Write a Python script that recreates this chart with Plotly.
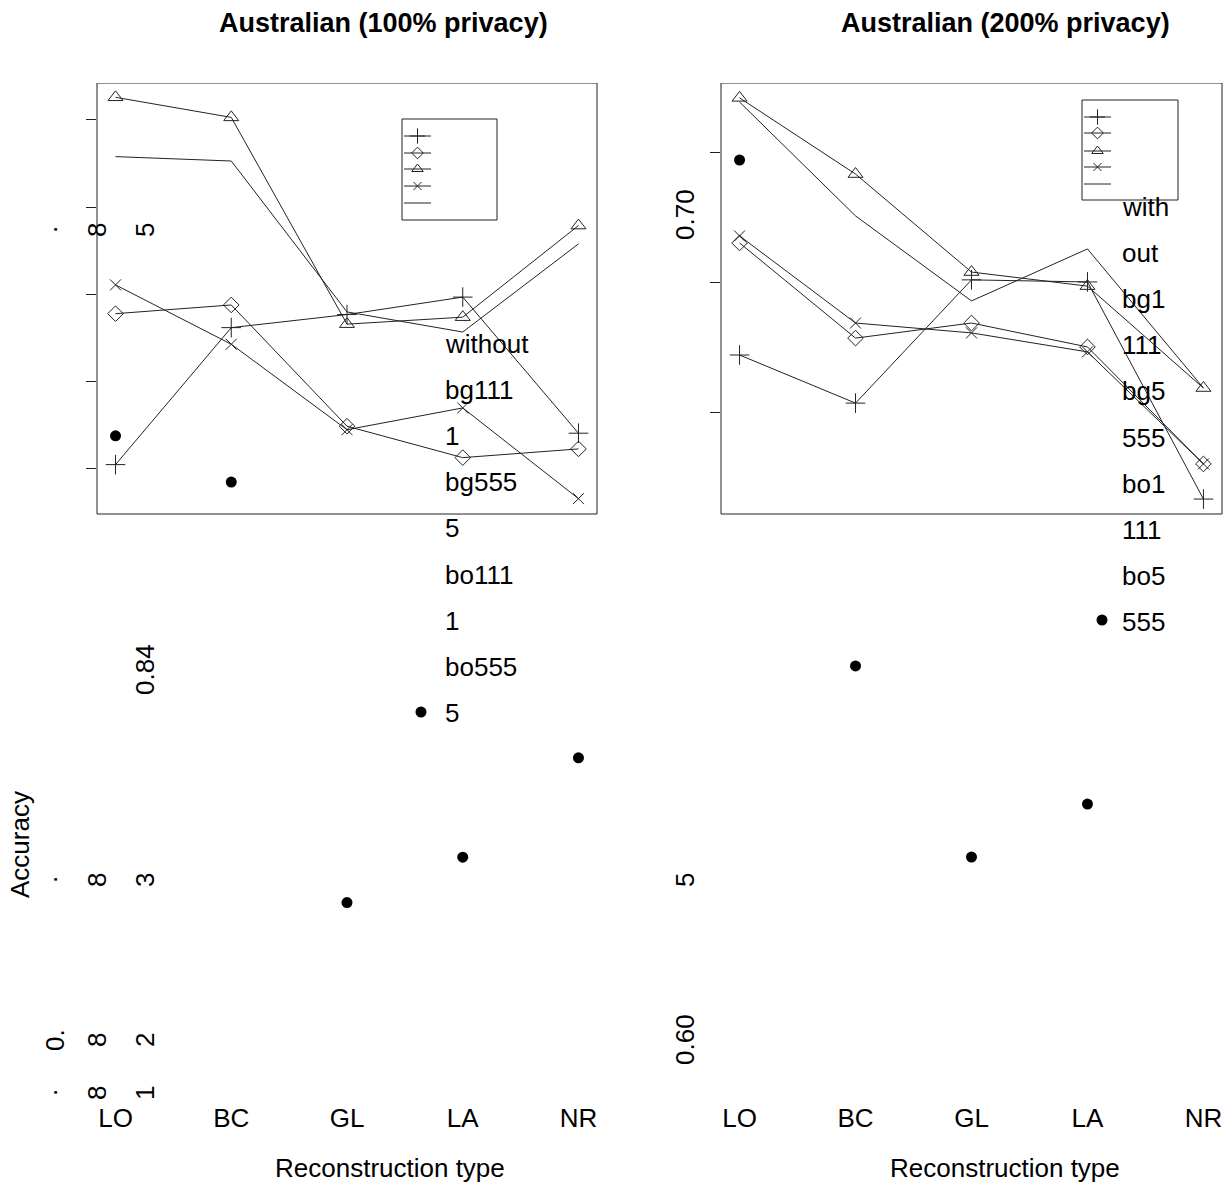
import plotly.graph_objects as go

# ---------------- data ----------------
categories = ["LO", "BC", "GL", "LA", "NR"]
series_names = ["without", "bg1111", "bg5555", "bo1111", "bo5555"]

# Australian (100% privacy)
p100_without = [0.8105, 0.8262, 0.8277, 0.8297, 0.8141]
p100_bg1111 = [0.8278, 0.8288, 0.8149, 0.8113, 0.8123]
p100_bg5555 = [0.8526, 0.8503, 0.8266, 0.8274, 0.8379]
p100_bo1111 = [0.8311, 0.8243, 0.8145, 0.8170, 0.8066]
p100_bo5555 = [0.8458, 0.8453, 0.8280, 0.8257, 0.8358]
p100_dots = [0.8138, 0.8085, 0.7603, 0.7655, 0.7769]

# Australian (200% privacy)
p200_without = [0.6223, 0.6038, 0.6512, 0.6504, 0.5669]
p200_bg1111 = [0.6654, 0.6288, 0.6346, 0.6254, 0.5804]
p200_bg5555 = [0.7212, 0.6919, 0.6542, 0.6488, 0.6096]
p200_bo1111 = [0.6681, 0.6346, 0.6308, 0.6235, 0.5804]
p200_bo5555 = [0.7196, 0.6758, 0.6431, 0.6631, 0.6096]
p200_dots = [0.6973, 0.5027, 0.4292, 0.4496, None]

p100_ticks = [0.81, 0.82, 0.83, 0.84, 0.85]
p200_ticks = [0.60, 0.65, 0.70]

titles = ["Australian (100% privacy)", "Australian (200% privacy)"]
x_title = "Reconstruction type"
y_title = "Accuracy"

# broken legend texts as rendered
legend_text_left = ["without", "bg111", "1", "bg555", "5", "bo111", "1", "bo555", "5"]
legend_text_right = ["with", "out", "bg1", "111", "bg5", "555", "bo1", "111", "bo5", "555"]

# broken y tick label fragments as rendered
left_frag_text = [".", "8", "5", "0.84", ".", "8", "3", "0.", "8", "2", ".", "8", "1"]
right_frag_text = ["0.70", "5", "0.60"]

# ---------------- layout geometry (pixels) ----------------
W, H = 1232, 1184
FONT = "Liberation Sans, Arial, Helvetica, sans-serif"
INK = "#222222"
BOX_TOP, BOX_BOT, PLOT_BOT = 83, 514, 1100
panel_px = [(97, 597), (721, 1222)]
box_vals = [(0.80484, 0.85424), (0.56115, 0.72692)]

left_frag_pos = [(48, 230), (97, 230), (145, 230), (145, 670), (48, 880), (97, 880), (145, 880),
                 (55, 1040), (97, 1040), (145, 1040), (48, 1093), (97, 1093), (145, 1093)]
right_frag_pos = [(685, 215), (685, 880), (685, 1040)]

fig = go.Figure()

panels = [
    ([p100_without, p100_bg1111, p100_bg5555, p100_bo1111, p100_bo5555], p100_dots, p100_ticks),
    ([p200_without, p200_bg1111, p200_bg5555, p200_bo1111, p200_bo5555], p200_dots, p200_ticks),
]
symbols = ["cross-thin-open", "diamond-open", "triangle-up-open", "x-thin-open", None]
sizes = [14, 12, 13, 11, 0]

for i, (series, dots, ticks) in enumerate(panels):
    xa = "x" if i == 0 else "x2"
    ya = "y" if i == 0 else "y2"
    for name, vals, sym, sz in zip(series_names, series, symbols, sizes):
        if sym is None:
            fig.add_trace(go.Scatter(x=categories, y=vals, mode="lines", name=name,
                                     line=dict(color=INK, width=1), xaxis=xa, yaxis=ya,
                                     showlegend=False))
        else:
            fig.add_trace(go.Scatter(x=categories, y=vals, mode="lines+markers", name=name,
                                     line=dict(color=INK, width=1),
                                     marker=dict(symbol=sym, size=sz, color=INK,
                                                 line=dict(color=INK, width=1)),
                                     xaxis=xa, yaxis=ya, showlegend=False))
    fig.add_trace(go.Scatter(x=categories, y=dots, mode="markers", name="points",
                             marker=dict(symbol="circle", size=11, color="black"),
                             xaxis=xa, yaxis=ya, showlegend=False, cliponaxis=False))

layout_axes = {}
for i, ((x0, x1), (vb, vt), ticks) in enumerate(zip(panel_px, box_vals, [p100_ticks, p200_ticks])):
    scale = (BOX_BOT - BOX_TOP) / (vt - vb)
    rng_bot = vb - (PLOT_BOT - BOX_BOT) / scale
    sx = "" if i == 0 else "2"
    layout_axes["xaxis" + sx] = dict(
        domain=[x0 / W, x1 / W], range=[-0.16, 4.16], type="category",
        categoryorder="array", categoryarray=categories,
        showgrid=False, zeroline=False, showline=False, ticks="",
        tickfont=dict(size=26, color="black", family=FONT), anchor="y" + sx)
    layout_axes["yaxis" + sx] = dict(
        domain=[(H - PLOT_BOT) / H, (H - BOX_TOP) / H], range=[rng_bot, vt],
        showgrid=False, zeroline=False, showline=False, tickvals=ticks,
        ticks="outside", ticklen=10, tickcolor=INK, tickwidth=1,
        showticklabels=False, anchor="x" + sx)
    # plot frame box
    fig.add_shape(type="rect", xref="x" + sx + " domain", yref="y" + sx,
                  x0=0, x1=1, y0=vb, y1=vt, line=dict(color=INK, width=1))

# pixel overlay axes for legend decorations and text
layout_axes["xaxis3"] = dict(domain=[0, 1], range=[0, W], visible=False, anchor="y3")
layout_axes["yaxis3"] = dict(domain=[0, 1], range=[H, 0], visible=False, anchor="x3")

# legend boxes
leg = [dict(box=(402, 497, 119, 220), rows=[136, 153, 169, 186, 203], lx=(404, 431),
            tx=443, ty0=344, texts=legend_text_left, dot=(421, 712)),
       dict(box=(1082, 1178, 100, 200), rows=[117, 133, 151, 167, 184], lx=(1084, 1111),
            tx=1120, ty0=207, texts=legend_text_right, dot=(1102, 620))]
leg_sizes = [11, 9, 10, 8, 0]
for L in leg:
    bx0, bx1, by0, by1 = L["box"]
    fig.add_shape(type="rect", xref="x3", yref="y3", x0=bx0, x1=bx1, y0=by0, y1=by1,
                  line=dict(color=INK, width=1))
    for r, sym, sz in zip(L["rows"], symbols, leg_sizes):
        fig.add_shape(type="line", xref="x3", yref="y3", x0=L["lx"][0], x1=L["lx"][1],
                      y0=r, y1=r, line=dict(color=INK, width=1))
        if sym is not None:
            fig.add_trace(go.Scatter(x=[(L["lx"][0] + L["lx"][1]) / 2], y=[r], mode="markers",
                                     marker=dict(symbol=sym, size=sz, color=INK,
                                                 line=dict(color=INK, width=1)),
                                     xaxis="x3", yaxis="y3", showlegend=False, hoverinfo="skip"))
    fig.add_trace(go.Scatter(x=[L["dot"][0]], y=[L["dot"][1]], mode="markers",
                             marker=dict(symbol="circle", size=11, color="black"),
                             xaxis="x3", yaxis="y3", showlegend=False, hoverinfo="skip"))
    for k, t in enumerate(L["texts"]):
        fig.add_annotation(xref="x3", yref="y3", x=L["tx"], y=L["ty0"] + 46.1 * k, text=t,
                           showarrow=False, xanchor="left", yanchor="middle",
                           font=dict(size=26, color="black", family=FONT))

# broken y tick labels
for t, (px, py) in zip(left_frag_text + right_frag_text, left_frag_pos + right_frag_pos):
    fig.add_annotation(xref="x3", yref="y3", x=px, y=py, text=t, textangle=-90,
                       showarrow=False, xanchor="center", yanchor="middle",
                       font=dict(size=26, color="black", family=FONT))

# y title
fig.add_annotation(xref="x3", yref="y3", x=20, y=845, text=y_title, textangle=-90,
                   showarrow=False, xanchor="center", yanchor="middle",
                   font=dict(size=26, color="black", family=FONT))

# titles and x titles
for cx, t in zip([383, 1005], titles):
    fig.add_annotation(xref="x3", yref="y3", x=cx, y=23, text="<b>" + t + "</b>",
                       showarrow=False, xanchor="center", yanchor="middle",
                       font=dict(size=27, color="black", family=FONT))
for cx in [390, 1005]:
    fig.add_annotation(xref="x3", yref="y3", x=cx, y=1168, text=x_title,
                       showarrow=False, xanchor="center", yanchor="middle",
                       font=dict(size=26, color="black", family=FONT))

fig.update_layout(width=W, height=H, margin=dict(l=0, r=0, t=0, b=0),
                  paper_bgcolor="white", plot_bgcolor="rgba(0,0,0,0)", showlegend=False,
                  font=dict(family=FONT, color="black"), **layout_axes)

fig.write_html("out.html", config={"displayModeBar": False},
               post_script="document.body.style.margin='0';")
